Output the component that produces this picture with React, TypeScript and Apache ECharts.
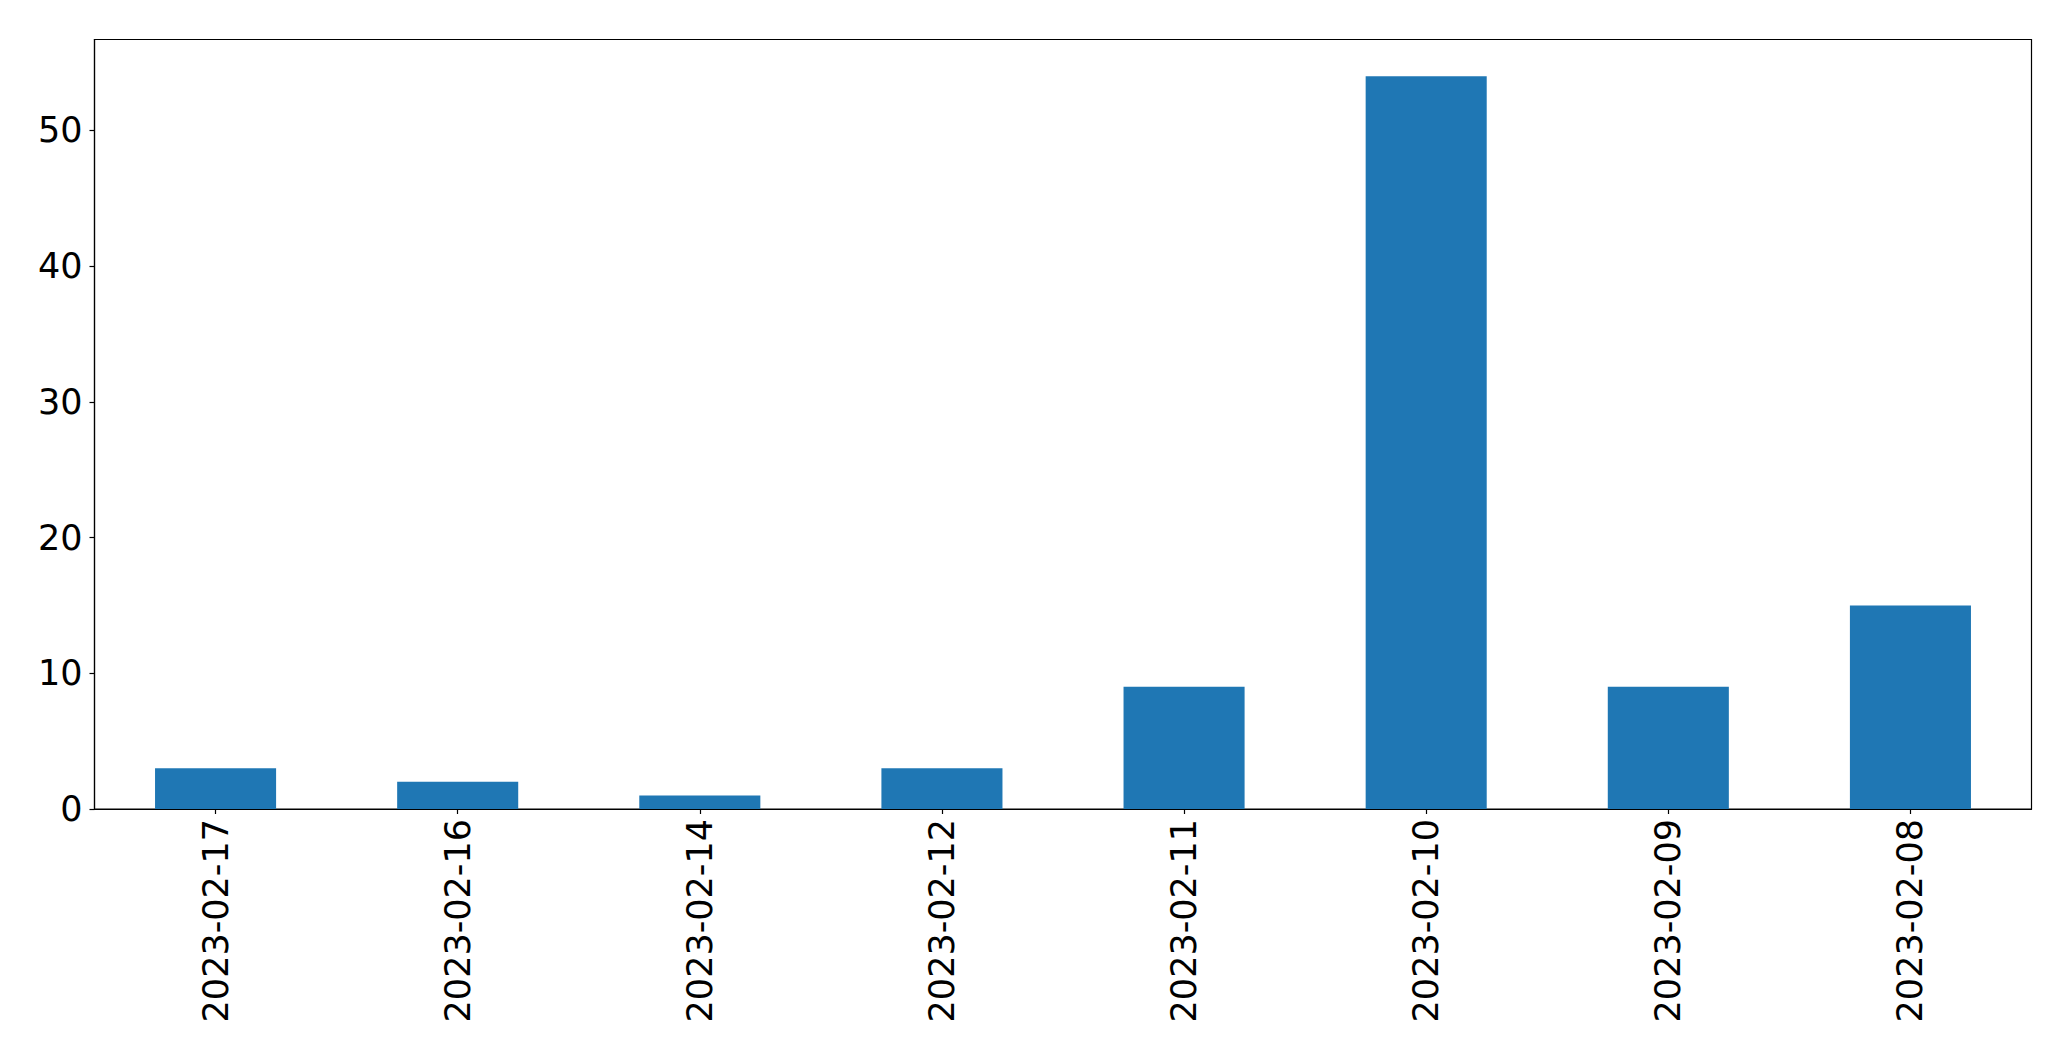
import React, { useEffect, useRef } from "react";
import * as echarts from "echarts";

const categories = [
  "2023-02-17",
  "2023-02-16",
  "2023-02-14",
  "2023-02-12",
  "2023-02-11",
  "2023-02-10",
  "2023-02-09",
  "2023-02-08",
];
const counts = [3, 2, 1, 3, 9, 54, 9, 15];
const yTicks = [0, 10, 20, 30, 40, 50];
const yMax = 56.7;

export default function App() {
  const ref = useRef<HTMLDivElement>(null);
  useEffect(() => {
    if (!ref.current) return;
    const chart = echarts.init(ref.current, undefined, { renderer: "svg" });
    const font = "DejaVu Sans";
    chart.setOption({
      animation: false,
      backgroundColor: "#ffffff",
      grid: {
        left: 94.5,
        top: 39.5,
        right: 39.5,
        bottom: 252,
        show: true,
        borderColor: "#000000",
        borderWidth: 1.2,
        backgroundColor: "transparent",
      },
      xAxis: {
        type: "category",
        data: categories,
        axisLine: { show: true, lineStyle: { color: "#000000", width: 1.2 } },
        axisTick: {
          show: true,
          alignWithLabel: true,
          length: 5,
          lineStyle: { color: "#000000", width: 1.2 },
        },
        axisLabel: {
          rotate: 90,
          margin: 10,
          fontFamily: font,
          fontSize: 35,
          color: "#000000",
          interval: 0,
        },
        splitLine: { show: false },
      },
      yAxis: {
        type: "value",
        min: 0,
        max: yMax,
        interval: 10,
        axisLine: { show: true, lineStyle: { color: "#000000", width: 1.2 } },
        axisTick: {
          show: true,
          length: 5,
          customValues: yTicks,
          lineStyle: { color: "#000000", width: 1.2 },
        },
        axisLabel: {
          margin: 12,
          fontFamily: font,
          fontSize: 35,
          color: "#000000",
          customValues: yTicks,
        },
        splitLine: { show: false },
      },
      series: [
        {
          type: "bar",
          data: counts,
          barWidth: "50%",
          itemStyle: { color: "#1f77b4" },
        },
      ],
    });
    return () => chart.dispose();
  }, []);
  return (
    <div
      ref={ref}
      style={{ position: "fixed", left: 0, top: 0, width: 2071, height: 1061 }}
    />
  );
}
